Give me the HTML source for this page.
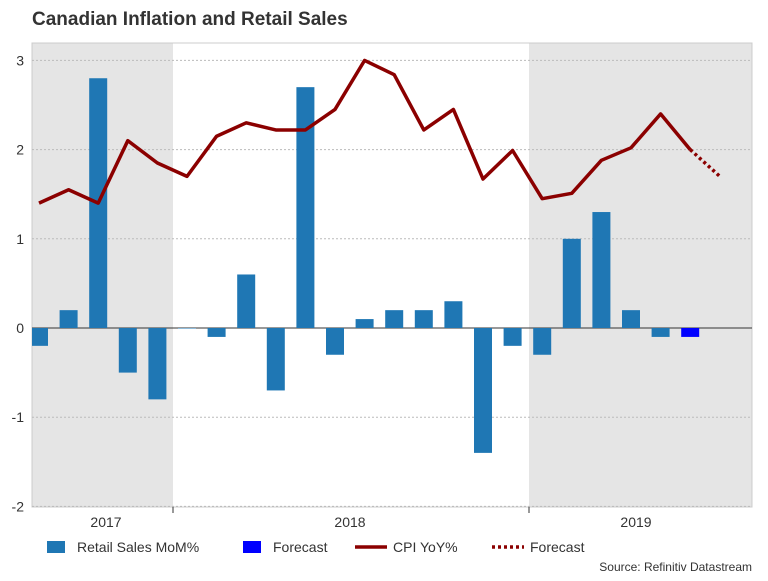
<!DOCTYPE html>
<html><head><meta charset="utf-8"><style>
body{margin:0;background:#fff;font-family:"Liberation Sans",sans-serif;}
</style></head><body>
<svg width="768" height="576" xmlns="http://www.w3.org/2000/svg" font-family="Liberation Sans, sans-serif">
<defs><clipPath id="cp"><rect x="32" y="43" width="720" height="464"/></clipPath></defs>
<text x="32" y="25" font-size="19" font-weight="bold" fill="#333">Canadian Inflation and Retail Sales</text>
<g id="plot"></g>
<text x="752" y="571" font-size="12" fill="#333" text-anchor="end">Source: Refinitiv Datastream</text>
</svg>
<script>
const categories=["Aug17","Sep17","Oct17","Nov17","Dec17","Jan18","Feb18","Mar18","Apr18","May18","Jun18","Jul18","Aug18","Sep18","Oct18","Nov18","Dec18","Jan19","Feb19","Mar19","Apr19","May19","Jun19","Jul19"];
const retailSales=[-0.2,0.2,2.8,-0.5,-0.8,0.0,-0.1,0.6,-0.7,2.7,-0.3,0.1,0.2,0.2,0.3,-1.4,-0.2,-0.3,1.0,1.3,0.2,-0.1,null,null];
const retailForecast=[null,null,null,null,null,null,null,null,null,null,null,null,null,null,null,null,null,null,null,null,null,null,-0.1,null];
const cpi=[1.4,1.55,1.4,2.1,1.85,1.7,2.15,2.3,2.22,2.22,2.45,3.0,2.84,2.22,2.45,1.67,1.99,1.45,1.51,1.88,2.02,2.4,2.0,null];
const cpiForecast=[null,null,null,null,null,null,null,null,null,null,null,null,null,null,null,null,null,null,null,null,null,null,2.0,1.7];
const yTicks=[-2,-1,0,1,2,3];
const years=[{label:"2017",from:0,to:4},{label:"2018",from:5,to:16},{label:"2019",from:17,to:23}];
const NS="http://www.w3.org/2000/svg";
const L=32,R=752,T=43,B=507;
const x=i=>39+i*29.6;
const y=v=>328-v*89.2;
const g=document.getElementById('plot');
function mk(t,a,parent){const e=document.createElementNS(NS,t);for(const k in a)e.setAttribute(k,a[k]);(parent||g).appendChild(e);return e;}
[[L,173],[529,R]].forEach(([x0,x1])=>{
 const r=mk('rect',{x:x0,y:T,width:x1-x0,height:B-T,fill:'#e5e5e5'});
 
});
mk('rect',{x:L,y:T,width:R-L,height:B-T,fill:'none',stroke:'#ccc'});
yTicks.forEach(t=>{
 const ln=mk('line',{x1:L,x2:R,y1:y(t),y2:y(t),stroke:t===0?'#333':'#bbb','stroke-dasharray':t===0?'':'2,2','stroke-width':1});
 
 const tx=mk('text',{x:24,y:y(t)+5,'font-size':14,fill:'#333','text-anchor':'end'});tx.textContent=t;
 
});
const cg=mk('g',{'clip-path':'url(#cp)'});
retailSales.forEach((v,i)=>{if(v===null)return;
 const r=mk('rect',{x:x(i)-9,y:Math.min(y(v),y(0)),width:18,height:Math.max(Math.abs(y(v)-y(0)),0.5),fill:'#1f77b4'},cg);
 });
retailForecast.forEach((v,i)=>{if(v===null)return;
 const r=mk('rect',{x:x(i)-9,y:Math.min(y(v),y(0)),width:18,height:Math.abs(y(v)-y(0)),fill:'#0000ff'},cg);
 });
function path(arr){let d='';arr.forEach((v,i)=>{if(v===null)return;d+=(d?'L':'M')+x(i)+','+y(v);});return d;}
const p1=mk('path',{d:path(cpi),fill:'none',stroke:'#8b0000','stroke-width':3.5,'stroke-linejoin':'round'});

const p2=mk('path',{d:path(cpiForecast),fill:'none',stroke:'#8b0000','stroke-width':3.5,'stroke-dasharray':'3,3'});

[173,529].forEach(xx=>{const t=mk('line',{x1:xx,x2:xx,y1:B,y2:B+6,stroke:'#333'});});
years.forEach(yr=>{const cx=yr.label==="2017"?106:yr.label==="2018"?350:636;
 const t=mk('text',{x:cx,y:527,'font-size':14,fill:'#333','text-anchor':'middle'});t.textContent=yr.label;
 });
const leg=[{t:'rect',c:'#1f77b4',x:47,l:'Retail Sales MoM%'},{t:'rect',c:'#0000ff',x:243,l:'Forecast'},{t:'line',c:'#8b0000',x:355,l:'CPI YoY%'},{t:'dash',c:'#8b0000',x:492,l:'Forecast'}];
leg.forEach(e=>{
 let m;
 if(e.t==='rect')m=mk('rect',{x:e.x,y:541,width:18,height:12,fill:e.c});
 else m=mk('line',{x1:e.x,x2:e.x+32,y1:547,y2:547,stroke:e.c,'stroke-width':3.5,'stroke-dasharray':e.t==='dash'?'3,3':''});
 
 const t=mk('text',{x:e.x+(e.t==='rect'?30:38),y:552,'font-size':14,fill:'#333'});t.textContent=e.l;
 
});
</script>
</body></html>
